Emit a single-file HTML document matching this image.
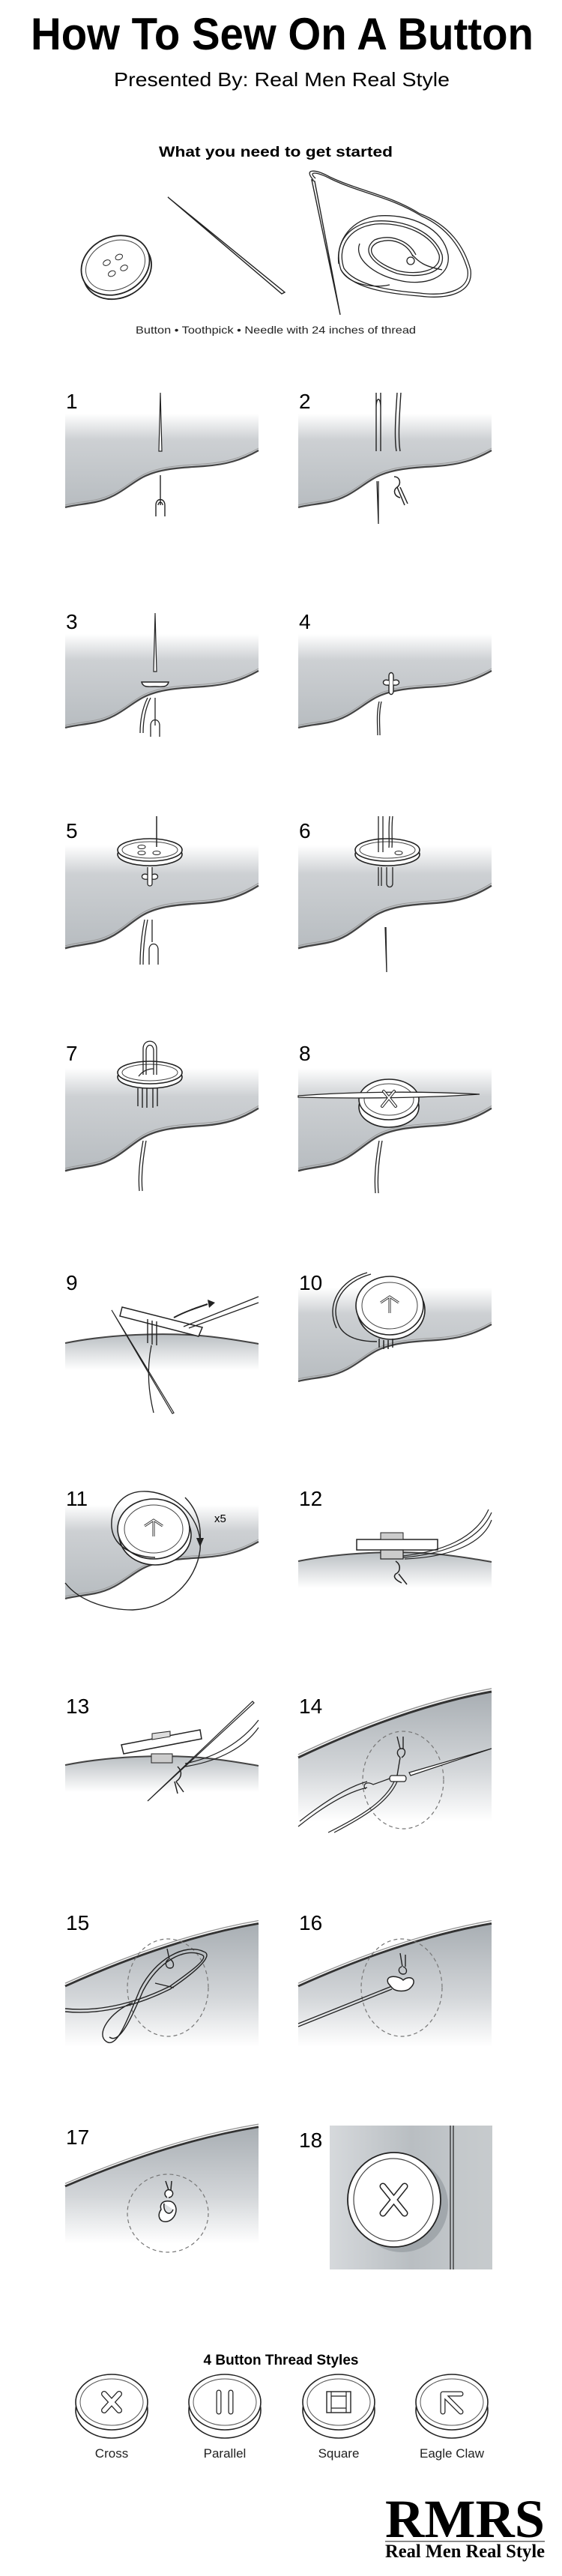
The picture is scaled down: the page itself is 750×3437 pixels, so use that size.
<!DOCTYPE html>
<html><head><meta charset="utf-8"><style>
html,body{margin:0;padding:0;background:#fff}
svg{display:block}
text{font-family:"Liberation Sans",Arial,sans-serif}
</style></head><body>
<svg width="750" height="3437" viewBox="0 0 750 3437" xmlns="http://www.w3.org/2000/svg">
<defs>
<linearGradient id="gA" x1="0" y1="0" x2="0" y2="1">
<stop offset="0" stop-color="#ffffff"/><stop offset="0.28" stop-color="#cdd0d3"/><stop offset="1" stop-color="#b7bcc0"/></linearGradient>
<linearGradient id="gB" x1="0" y1="0" x2="0" y2="1">
<stop offset="0" stop-color="#b9bec2"/><stop offset="1" stop-color="#ffffff"/></linearGradient>
<linearGradient id="gC" x1="0" y1="0" x2="0" y2="1">
<stop offset="0" stop-color="#a8aeb3"/><stop offset="0.6" stop-color="#d3d6d9"/><stop offset="1" stop-color="#ffffff"/></linearGradient>
<linearGradient id="gD" x1="0" y1="0" x2="1" y2="0">
<stop offset="0" stop-color="#d6d9dc"/><stop offset="0.5" stop-color="#b9bec2"/><stop offset="1" stop-color="#c8cccf"/></linearGradient>
<g id="fabA">
<path d="M0,28 L258,28 L258,77 C235,90 215,96 185,98 C150,100 125,102 105,112 C85,122 70,140 40,146 C25,149 10,150 0,153 Z" fill="url(#gA)"/>
<path d="M0,153 C10,150 25,149 40,146 C70,140 85,122 105,112 C125,102 150,100 185,98 C215,96 235,90 258,77" fill="none" stroke="#444" stroke-width="2.2"/>
<path d="M0,150 C10,147 25,146 40,143 C70,137 85,119 105,109 C125,99 150,97 185,95 C215,93 235,87 258,74" fill="none" stroke="#999" stroke-width="1"/>
</g>
<g id="fabB">
<path d="M0,92 C60,80 130,78 180,82 C215,85 240,90 258,93 L258,128 L0,128 Z" fill="url(#gB)"/>
<path d="M0,92 C60,80 130,78 180,82 C215,85 240,90 258,93" fill="none" stroke="#444" stroke-width="2"/>
</g>
<g id="fabC">
<path d="M0,80 C80,42 170,8 258,-8 L258,165 L0,165 Z" fill="url(#gC)"/>
<path d="M0,80 C80,42 170,8 258,-8" fill="none" stroke="#333" stroke-width="3"/>
<path d="M0,76 C80,38 170,4 258,-12" fill="none" stroke="#999" stroke-width="1.5"/>
</g>
<g id="btn">
<ellipse cx="0" cy="6" rx="43" ry="15" fill="#fff" stroke="#222" stroke-width="1.6"/>
<ellipse cx="0" cy="0" rx="43" ry="15" fill="#fff" stroke="#222" stroke-width="1.6"/>
<ellipse cx="0" cy="0" rx="37" ry="11" fill="none" stroke="#444" stroke-width="1"/>
</g>
<g id="sbtn">
<ellipse cx="0" cy="11" rx="48" ry="37" fill="#fff" stroke="#222" stroke-width="1.6"/>
<ellipse cx="0" cy="0" rx="48" ry="37" fill="#fff" stroke="#222" stroke-width="1.6"/>
<ellipse cx="0" cy="0" rx="42" ry="31" fill="none" stroke="#555" stroke-width="1"/>
</g>
</defs>

<!-- Header -->
<text x="41" y="66" font-size="60" font-weight="bold" textLength="671" lengthAdjust="spacingAndGlyphs">How To Sew On A Button</text>
<text x="152" y="115" font-size="26" textLength="448" lengthAdjust="spacingAndGlyphs">Presented By: Real Men Real Style</text>
<text x="212" y="209" font-size="19" font-weight="bold" textLength="312" lengthAdjust="spacingAndGlyphs">What you need to get started</text>

<!-- supplies -->
<g transform="translate(154,354) rotate(-25)">
<ellipse cx="0" cy="6" rx="47" ry="38" fill="#fff" stroke="#222" stroke-width="1.8"/>
<ellipse cx="0" cy="0" rx="47" ry="38" fill="#fff" stroke="#222" stroke-width="1.8"/>
<ellipse cx="0" cy="0" rx="41" ry="32" fill="none" stroke="#444"/>
<ellipse cx="-9" cy="-8" rx="5" ry="3.5" fill="none" stroke="#222"/><ellipse cx="9" cy="-8" rx="5" ry="3.5" fill="none" stroke="#222"/>
<ellipse cx="-9" cy="8" rx="5" ry="3.5" fill="none" stroke="#222"/><ellipse cx="9" cy="8" rx="5" ry="3.5" fill="none" stroke="#222"/>
</g>
<path d="M224,263 L380,390 L376,392 Z" fill="#fff" stroke="#222" stroke-width="1.4"/>
<path d="M416,240 L454,420 L420,242 Z" fill="#fff" stroke="#222" stroke-width="1.4"/>
<g fill="none" stroke="#222" stroke-width="1.3">
<path d="M418,240 C405,225 420,225 440,236 C480,255 520,260 560,285 C600,300 620,330 628,360 C632,390 600,400 560,395 C520,392 470,385 455,360 C445,330 460,300 500,295 C540,292 580,310 590,340 C595,365 560,372 530,365 C500,355 480,335 500,320 C520,312 545,320 555,340"/>
<path d="M421,238 C410,228 423,229 442,239 C482,258 522,263 562,288 C598,304 616,332 624,360 C628,386 598,396 560,391 C522,388 474,381 459,358 C450,332 463,304 501,299 C539,296 577,313 586,340 C590,361 558,368 530,361 C502,351 485,334 503,324 C522,316 543,324 551,342"/>
<path d="M452,352 C448,320 470,292 505,288 C550,285 592,305 598,340 C602,372 565,382 532,374 C498,366 472,345 480,325"/>
<path d="M455,360 C465,380 500,385 520,380 M550,340 C560,350 565,355 590,360"/>
</g>
<circle cx="548" cy="348" r="5" fill="none" stroke="#222" stroke-width="1.3"/>
<text x="181" y="445" font-size="14" textLength="374" lengthAdjust="spacingAndGlyphs" fill="#222">Button • Toothpick • Needle with 24 inches of thread</text>

<!-- ROW 1 -->
<g transform="translate(87,524)">
<use href="#fabA"/>
<text x="1" y="21" font-size="28">1</text>
<path d="M127,0 L129,78 L125,78 Z" fill="#fff" stroke="#222" stroke-width="1.2"/>
<path d="M127,110 L127,150 M121,165 L121,150 C121,140 133,140 133,150 L133,165 M124,150 C124,145 130,145 130,150" fill="none" stroke="#222" stroke-width="1.4"/>
</g>
<g transform="translate(398,524)">
<use href="#fabA"/>
<text x="1" y="21" font-size="28">2</text>
<path d="M104,0 L104,78 M110,0 L110,78 M104,20 C104,5 110,5 110,20" fill="none" stroke="#222" stroke-width="1.4"/>
<path d="M132,0 C130,30 128,60 131,78 M137,0 C135,30 133,60 136,78" fill="none" stroke="#222" stroke-width="1.4"/>
<path d="M107,118 L107,175 L105,118" fill="none" stroke="#222" stroke-width="1.3"/>
<path d="M128,112 C136,112 138,122 132,126 C126,130 128,138 136,140 M132,126 L142,150 M136,126 L146,148" fill="none" stroke="#222" stroke-width="1.5"/>
</g>

<!-- ROW 2 -->
<g transform="translate(87,818)">
<use href="#fabA"/>
<text x="1" y="21" font-size="28">3</text>
<path d="M120,0 L122,78 L118,78 Z" fill="#fff" stroke="#222" stroke-width="1.2"/>
<path d="M102,92 L138,92 C136,100 128,98 120,98 C112,98 104,100 102,92 Z" fill="#fff" stroke="#222" stroke-width="1.5"/>
<path d="M100,160 C100,140 104,125 110,113 M104,160 C104,140 108,125 114,113 M120,113 L120,150 M114,165 L114,150 C114,140 126,140 126,150 L126,165" fill="none" stroke="#222" stroke-width="1.3"/>
</g>
<g transform="translate(398,818)">
<use href="#fabA"/>
<text x="1" y="21" font-size="28">4</text>
<path d="M121,84 C121,78 127,78 127,84 L127,104 C127,110 121,110 121,104 Z" fill="#fff" stroke="#222" stroke-width="1.4"/>
<path d="M121,90 C112,86 110,98 121,96 M127,90 C136,86 138,98 127,96" fill="#fff" stroke="#222" stroke-width="1.4"/>
<path d="M108,118 C104,135 106,150 106,163 M111,118 C107,135 109,150 109,163" fill="none" stroke="#222" stroke-width="1.3"/>
</g>

<!-- ROW 3 -->
<g transform="translate(87,1097)">
<use href="#fabA" transform="scale(1,1.1)"/>
<text x="1" y="21" font-size="28">5</text>
<use href="#btn" x="113" y="37"/>
<ellipse cx="102" cy="33" rx="5" ry="2.5" fill="none" stroke="#222"/><ellipse cx="102" cy="41" rx="5" ry="2.5" fill="none" stroke="#222"/><ellipse cx="122" cy="41" rx="5" ry="2.5" fill="none" stroke="#222"/>
<path d="M122,-8 L122,33" stroke="#222" stroke-width="1.5"/>
<path d="M110,60 L110,82 C110,86 116,86 116,82 L116,60 M110,70 C101,66 99,78 110,76 M116,70 C125,66 127,78 116,76" fill="#fff" stroke="#222" stroke-width="1.3"/>
<path d="M100,190 C100,170 102,150 106,130 M104,190 C104,170 106,150 110,130 M116,130 L116,160 M112,190 L112,170 C112,160 124,160 124,170 L124,190" fill="none" stroke="#222" stroke-width="1.3"/>
</g>
<g transform="translate(398,1097)">
<use href="#fabA" transform="scale(1,1.1)"/>
<text x="1" y="21" font-size="28">6</text>
<use href="#btn" x="119" y="37"/>
<path d="M107,-8 L107,40 M113,-8 L113,40 M122,-8 C120,10 122,25 121,34 M126,-8 C124,10 126,25 125,34" fill="none" stroke="#222" stroke-width="1.3"/>
<ellipse cx="134" cy="41" rx="5" ry="2.5" fill="none" stroke="#222"/>
<path d="M107,60 L107,85 M111,60 L111,85 M118,60 L118,82 C118,88 126,88 126,82 L126,60" fill="none" stroke="#222" stroke-width="1.3"/>
<path d="M117,140 L118,200 L116,140" fill="none" stroke="#222" stroke-width="1.3"/>
</g>

<!-- ROW 4 -->
<g transform="translate(87,1394)">
<use href="#fabA" transform="scale(1,1.1)"/>
<text x="1" y="21" font-size="28">7</text>
<use href="#btn" x="113" y="37"/>
<path d="M104,40 L104,5 C104,-8 122,-8 122,5 L122,40 M108,40 L108,8 C108,-2 118,-2 118,8 L118,40" fill="none" stroke="#222" stroke-width="1.3"/>
<path d="M98,42 C104,34 112,32 118,32" fill="none" stroke="#222" stroke-width="1.3"/>
<path d="M97,58 L97,82 M103,58 L103,84 M109,58 L109,84 M117,58 L117,84 M123,58 L123,82" fill="none" stroke="#222" stroke-width="1.4"/>
<path d="M99,195 C97,175 100,150 104,128 M103,195 C101,175 104,150 108,128" fill="none" stroke="#222" stroke-width="1.3"/>
</g>
<g transform="translate(398,1394)">
<use href="#fabA" transform="scale(1,1.1)"/>
<text x="1" y="21" font-size="28">8</text>
<ellipse cx="121" cy="83" rx="40" ry="27" fill="#fff" stroke="#222" stroke-width="1.6"/>
<ellipse cx="121" cy="73" rx="40" ry="27" fill="#fff" stroke="#222" stroke-width="1.6"/>
<ellipse cx="121" cy="73" rx="33" ry="21" fill="none" stroke="#444"/>
<path d="M0,68 C80,62 170,62 242,66 C170,71 80,72 0,70 Z" fill="#fff" stroke="#222" stroke-width="1.3"/>
<path d="M112,82 L128,62 M114,62 L130,82" stroke="#222" stroke-width="4" stroke-linecap="round"/>
<path d="M112,82 L128,62 M114,62 L130,82" stroke="#fff" stroke-width="2" stroke-linecap="round"/>
<path d="M103,198 C101,175 104,150 108,128 M107,198 C105,175 108,150 112,128" fill="none" stroke="#222" stroke-width="1.3"/>
</g>

<!-- ROW 5 -->
<g transform="translate(87,1700)">
<use href="#fabB"/>
<text x="1" y="21" font-size="28">9</text>
<path d="M76,44 L183,71 L178,83 L73,56 Z" fill="#fff" stroke="#222" stroke-width="1.5"/>
<path d="M110,60 L110,92 M116,62 L116,94 M122,63 L122,95" stroke="#222" stroke-width="1.4"/>
<path d="M62,48 L145,185 L143,186 Z" fill="#fff" stroke="#222" stroke-width="1.2"/>
<path d="M115,95 C108,130 112,160 118,185" fill="none" stroke="#222" stroke-width="1.3"/>
<path d="M158,70 L258,30 M165,72 L258,38" fill="none" stroke="#222" stroke-width="1.3"/>
<path d="M145,58 C160,50 175,45 190,40" fill="none" stroke="#222" stroke-width="2"/>
<path d="M190,34 L200,38 L192,45 Z" fill="#222"/>
</g>
<g transform="translate(398,1700)">
<use href="#fabA" transform="translate(0,-10)"/>
<text x="1" y="21" font-size="28">10</text>
<ellipse cx="124" cy="48" rx="45" ry="39" fill="#fff" stroke="#222" stroke-width="1.6"/>
<ellipse cx="122" cy="42" rx="45" ry="39" fill="#fff" stroke="#222" stroke-width="1.6"/>
<ellipse cx="122" cy="42" rx="37" ry="31" fill="none" stroke="#444"/>
<path d="M122,30 L122,52 M110,38 L122,30 L134,38" fill="none" stroke="#222" stroke-width="3"/>
<path d="M122,30 L122,52 M110,38 L122,30 L134,38" fill="none" stroke="#fff" stroke-width="1.3"/>
<path d="M97,0 C60,10 40,40 55,70 C65,88 90,90 105,90 M92,-2 C56,8 36,40 51,72" fill="none" stroke="#222" stroke-width="1.4"/>
<path d="M108,86 L108,98 M114,88 L114,100 M120,88 L120,100 M126,86 L126,98" stroke="#222" stroke-width="1.5"/>
</g>

<!-- ROW 6 -->
<g transform="translate(87,1988)">
<use href="#fabA" transform="translate(0,-8)"/>
<text x="1" y="21" font-size="28">11</text>
<ellipse cx="120" cy="60" rx="48" ry="40" fill="#fff" stroke="#222" stroke-width="1.6"/>
<ellipse cx="118" cy="52" rx="48" ry="40" fill="#fff" stroke="#222" stroke-width="1.6"/>
<ellipse cx="118" cy="52" rx="39" ry="32" fill="none" stroke="#444"/>
<path d="M118,40 L118,62 M106,48 L118,40 L130,48" fill="none" stroke="#222" stroke-width="3"/>
<path d="M118,40 L118,62 M106,48 L118,40 L130,48" fill="none" stroke="#fff" stroke-width="1.3"/>
<path d="M0,124 C20,150 60,160 90,160 C140,158 175,120 180,80 C184,40 150,5 110,2 C80,0 60,20 62,50 C65,80 100,90 120,90" fill="none" stroke="#222" stroke-width="1.4"/>
<path d="M160,10 C175,25 182,45 180,70" fill="none" stroke="#222" stroke-width="1.4"/>
<path d="M175,64 L185,64 L180,76 Z" fill="#222"/>
<text x="199" y="43" font-size="15">x5</text>
</g>
<g transform="translate(398,1988)">
<use href="#fabB" transform="translate(0,3)"/>
<text x="1" y="21" font-size="28">12</text>
<rect x="78" y="66" width="108" height="14" fill="#fff" stroke="#222" stroke-width="1.5"/>
<rect x="110" y="80" width="30" height="12" fill="#ccc" stroke="#222" stroke-width="1.2"/>
<path d="M110,57 L140,57 L140,66 L110,66 Z" fill="#ccc" stroke="#222"/>
<path d="M140,90 C190,86 240,70 258,30 M140,88 C190,82 236,66 254,26 M142,92 C195,90 245,75 258,40" fill="none" stroke="#222" stroke-width="1.2"/>
<path d="M130,95 C138,100 136,110 130,112 C126,116 130,120 138,124 M134,112 L145,126" fill="none" stroke="#222" stroke-width="1.5"/>
</g>

<!-- ROW 7 -->
<g transform="translate(87,2265)">
<use href="#fabB" transform="translate(0,-2)"/>
<text x="1" y="21" font-size="28">13</text>
<path d="M75,63 L180,43 L182,55 L78,75 Z" fill="#fff" stroke="#222" stroke-width="1.5"/>
<path d="M116,48 L140,45 L140,52 L116,56 Z" fill="#ddd" stroke="#222"/>
<rect x="115" y="75" width="28" height="12" fill="#ccc" stroke="#222"/>
<path d="M110,138 L250,5 L252,7 Z" fill="#fff" stroke="#222" stroke-width="1.2"/>
<path d="M160,88 C200,80 235,60 258,30 M160,92 C205,85 240,66 258,40" fill="none" stroke="#222" stroke-width="1.2"/>
<path d="M150,92 C158,100 154,108 148,112 M148,112 L158,126 M146,112 L150,128" fill="none" stroke="#222" stroke-width="1.5"/>
</g>
<g transform="translate(398,2265)">
<use href="#fabC"/>
<text x="1" y="21" font-size="28">14</text>
<ellipse cx="140" cy="110" rx="54" ry="65" fill="none" stroke="#777" stroke-width="1.2" stroke-dasharray="5,4"/>
<path d="M148,100 L258,68 L150,104 Z" fill="#fff" stroke="#222" stroke-width="1.2"/>
<path d="M125,104 L141,104 C145,104 145,112 141,112 L125,112 C121,112 121,104 125,104 Z" fill="#fff" stroke="#222" stroke-width="1.3"/>
<path d="M132,104 L136,80 M136,80 C130,75 132,68 138,68 C144,68 144,76 138,80 M136,68 L132,52 M140,68 L140,52" fill="none" stroke="#222" stroke-width="1.4"/>
<path d="M122,108 L100,116 C90,110 85,118 90,122 M0,172 C40,140 70,125 92,120 M2,165 C40,135 70,118 92,112 M40,180 C80,160 115,140 128,112 M48,180 C86,160 120,140 132,112" fill="none" stroke="#222" stroke-width="1.2"/>
</g>

<!-- ROW 8 -->
<g transform="translate(87,2554)">
<use href="#fabC" transform="translate(0,20) scale(1,0.95)"/>
<text x="1" y="21" font-size="28">15</text>
<ellipse cx="137" cy="98" rx="54" ry="65" fill="none" stroke="#777" stroke-width="1.2" stroke-dasharray="5,4"/>
<path d="M0,130 C50,135 100,120 140,100 C170,80 200,55 185,50 C160,38 120,60 100,100 C85,135 70,180 55,170 C40,160 60,130 90,118" fill="none" stroke="#222" stroke-width="1.4"/>
<path d="M0,126 C50,131 100,116 140,96 C165,78 194,58 182,54 C158,44 124,64 104,102 C89,137 73,174 59,164" fill="none" stroke="#222" stroke-width="1.4"/>
<path d="M120,92 L145,98 M138,60 C132,64 134,72 140,72 C146,72 146,64 140,60 M139,60 L136,46" fill="none" stroke="#222" stroke-width="1.4"/>
</g>
<g transform="translate(398,2554)">
<use href="#fabC" transform="translate(0,20) scale(1,0.95)"/>
<text x="1" y="21" font-size="28">16</text>
<ellipse cx="138" cy="98" rx="54" ry="65" fill="none" stroke="#777" stroke-width="1.2" stroke-dasharray="5,4"/>
<path d="M0,150 C50,130 100,110 125,100 M0,146 C50,126 100,106 125,96" fill="none" stroke="#222" stroke-width="1.3"/>
<path d="M120,92 C115,80 135,82 140,88 C150,80 160,88 150,98 C145,104 130,104 125,98 Z" fill="#fff" stroke="#222" stroke-width="1.5"/>
<path d="M138,70 C132,72 134,80 140,80 C146,80 146,72 140,70 M139,70 L136,52 M143,70 L143,54" fill="none" stroke="#222" stroke-width="1.4"/>
</g>

<!-- ROW 9 -->
<g transform="translate(87,2840)">
<use href="#fabC" transform="translate(0,5) scale(1,0.9)"/>
<text x="1" y="21" font-size="28">17</text>
<ellipse cx="137" cy="113" rx="54" ry="52" fill="none" stroke="#777" stroke-width="1.2" stroke-dasharray="5,4"/>
<path d="M128,108 C124,96 140,94 145,100 C152,108 146,122 136,124 C126,126 122,116 128,108 Z M132,100 C130,112 140,118 144,108 M136,92 C130,88 134,80 140,82 C146,84 144,92 138,92 M138,82 L134,70 M141,82 L142,70" fill="#fff" stroke="#222" stroke-width="1.5"/>
</g>
<g transform="translate(398,2840)">
<rect x="42" y="-4" width="217" height="192" fill="url(#gD)"/>
<rect x="207" y="-4" width="52" height="192" fill="#c5c9cc" opacity="0.5"/>
<path d="M203,-4 L203,188 M207,-4 L207,188" stroke="#222" stroke-width="1.2"/>
<text x="1" y="25" font-size="28">18</text>
<ellipse cx="138" cy="102" rx="62" ry="63" fill="#8e9499" opacity="0.6"/>
<ellipse cx="128" cy="95" rx="62" ry="63" fill="#fff" stroke="#222" stroke-width="1.8"/>
<ellipse cx="127" cy="95" rx="53" ry="55" fill="none" stroke="#444" stroke-width="1.2"/>
<path d="M113,77 L142,113 M142,77 L113,113" stroke="#222" stroke-width="9" stroke-linecap="round"/>
<path d="M113,77 L142,113 M142,77 L113,113" stroke="#fff" stroke-width="6" stroke-linecap="round"/>
</g>

<!-- Thread styles -->
<text x="375" y="3155" font-size="19" font-weight="bold" text-anchor="middle">4 Button Thread Styles</text>
<g transform="translate(149,3205)"><use href="#sbtn"/>
<path d="M-10,-11 L10,11 M10,-11 L-10,11" stroke="#222" stroke-width="8" stroke-linecap="round"/>
<path d="M-10,-11 L10,11 M10,-11 L-10,11" stroke="#fff" stroke-width="5.5" stroke-linecap="round"/></g>
<g transform="translate(300,3205)"><use href="#sbtn"/>
<path d="M-8,-13 L-8,13 M8,-13 L8,13" stroke="#222" stroke-width="7" stroke-linecap="round"/>
<path d="M-8,-13 L-8,13 M8,-13 L8,13" stroke="#fff" stroke-width="4.5" stroke-linecap="round"/></g>
<g transform="translate(452,3205)"><use href="#sbtn"/>
<rect x="-16" y="-14" width="32" height="28" fill="#fff" stroke="#222" stroke-width="1.4"/>
<path d="M-10,-14 L-10,14 M10,-14 L10,14 M-10,-8 L10,-8 M-10,8 L10,8" stroke="#222" stroke-width="1.2"/></g>
<g transform="translate(603,3205)"><use href="#sbtn"/>
<path d="M-12,-11 L-12,13 M-12,-11 L12,-11 M-12,-11 L12,13" stroke="#222" stroke-width="7" stroke-linecap="round"/>
<path d="M-12,-11 L-12,13 M-12,-11 L12,-11 M-12,-11 L12,13" stroke="#fff" stroke-width="4.5" stroke-linecap="round"/></g>
<g font-size="17" fill="#222" text-anchor="middle">
<text x="149" y="3279">Cross</text><text x="300" y="3279">Parallel</text><text x="452" y="3279">Square</text><text x="603" y="3279">Eagle Claw</text>
</g>

<!-- Logo -->
<text x="514" y="3385" font-size="72" font-weight="bold" textLength="213" lengthAdjust="spacingAndGlyphs" style="font-family:'Liberation Serif',serif">RMRS</text>
<rect x="514" y="3390" width="213" height="1.5" fill="#666"/>
<text x="514" y="3412" font-size="25" font-weight="bold" textLength="213" lengthAdjust="spacingAndGlyphs" style="font-family:'Liberation Serif',serif">Real Men Real Style</text>
</svg>
</body></html>
